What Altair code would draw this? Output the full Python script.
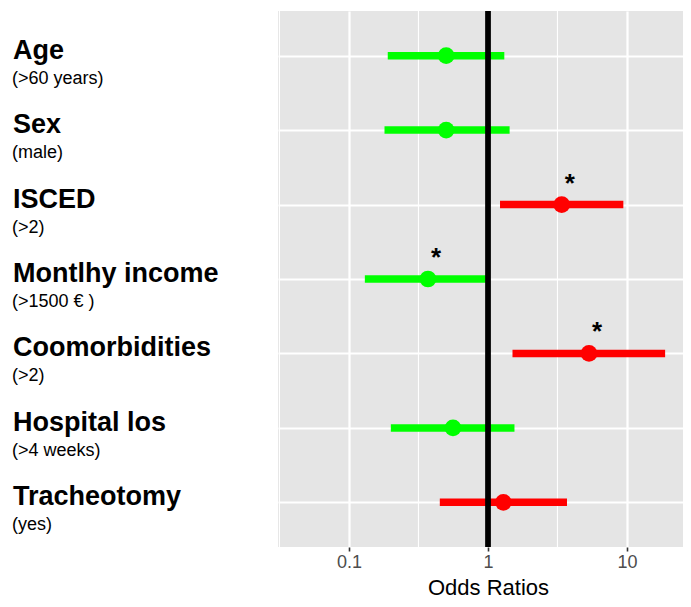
import altair as alt
import pandas as pd

# ---- data ----
labels = ["Age", "Sex", "ISCED", "Montlhy income", "Coomorbidities", "Hospital los", "Tracheotomy"]
sublabels = ["(>60 years)", "(male)", "(>2)", "(>1500 € )", "(>2)", "(>4 weeks)", "(yes)"]
odds = [0.50, 0.50, 3.39, 0.37, 5.33, 0.56, 1.29]
lower = [0.19, 0.18, 1.22, 0.13, 1.50, 0.20, 0.45]
upper = [1.31, 1.43, 9.41, 1.00, 18.8, 1.55, 3.70]
significant = [False, False, True, True, True, False, False]
x_ticks = [0.1, 1, 10]
minor_breaks = [0.0316, 0.316, 3.16]

df = pd.DataFrame({
    "label": labels,
    "sub": sublabels,
    "odds": odds,
    "lower": lower,
    "upper": upper,
    "significant": significant,
})
df["effect"] = ["risk" if v > 1 else "protective" for v in df["odds"]]
minor_df = pd.DataFrame({"x": minor_breaks})

FONT = "Liberation Sans"
x_scale = alt.Scale(type="log", domain=[0.03084, 25.28], nice=False)
y_scale = alt.Scale(type="point", domain=labels, padding=0.6)
color_scale = alt.Scale(domain=["protective", "risk"], range=["#00FF00", "#FF0000"])

x_axis = alt.Axis(
    values=x_ticks, format="~g", grid=True, gridColor="white", gridWidth=2.2,
    domain=False, tickColor="#333333", tickWidth=1.6, tickSize=4,
    labelFontSize=18, labelColor="#4D4D4D", labelPadding=2, labelFont=FONT,
    title="Odds Ratios", titleFontSize=22, titleColor="black", titleFont=FONT,
    titleFontWeight="normal", titleBaseline="alphabetic", titleY=47, titleX=210,
)
y_axis = alt.Axis(labels=False, ticks=False, domain=False, title=None,
                  grid=True, gridColor="white", gridWidth=2.2)

base = alt.Chart(df)
y_enc = alt.Y("label:N", scale=y_scale, axis=y_axis)

minor = alt.Chart(minor_df).mark_rule(color="white", strokeWidth=1.1).encode(
    x=alt.X("x:Q", scale=x_scale)
)

ci = base.mark_rule(strokeWidth=7.5).encode(
    x=alt.X("lower:Q", scale=x_scale, axis=x_axis),
    x2="upper:Q",
    y=y_enc,
    color=alt.Color("effect:N", scale=color_scale, legend=None),
)

pts = base.mark_circle(size=280, opacity=1).encode(
    x=alt.X("odds:Q", scale=x_scale),
    y=y_enc,
    color=alt.Color("effect:N", scale=color_scale, legend=None),
)

vline = alt.Chart(df).mark_rule(color="black", strokeWidth=4.5).encode(
    x=alt.datum(1, scale=x_scale)
)

stars = base.transform_filter("datum.significant").mark_text(
    text="*", font=FONT, fontSize=26, fontWeight="bold", align="center",
    baseline="alphabetic", dx=8, dy=-13, color="black"
).encode(
    x=alt.X("odds:Q", scale=x_scale),
    y=y_enc,
)

main_labels = base.mark_text(
    font=FONT, fontSize=27, fontWeight="bold", align="left",
    baseline="alphabetic", dy=3, color="black"
).encode(
    x=alt.value(-265),
    y=y_enc,
    text="label:N",
)

sub_labels = base.mark_text(
    font=FONT, fontSize=18, align="left", baseline="alphabetic", dy=28, color="black"
).encode(
    x=alt.value(-266),
    y=y_enc,
    text="sub:N",
)

chart = alt.layer(minor, ci, pts, vline, stars, main_labels, sub_labels).properties(
    width=405,
    height=536,
    autosize=alt.AutoSizeParams(type="none"),
    padding={"left": 270, "top": 3, "right": 0, "bottom": 52},
).configure(font=FONT).configure_view(fill="#E5E5E5", strokeWidth=0)

chart.save("out.html", embed_options={"renderer": "svg", "actions": False})
